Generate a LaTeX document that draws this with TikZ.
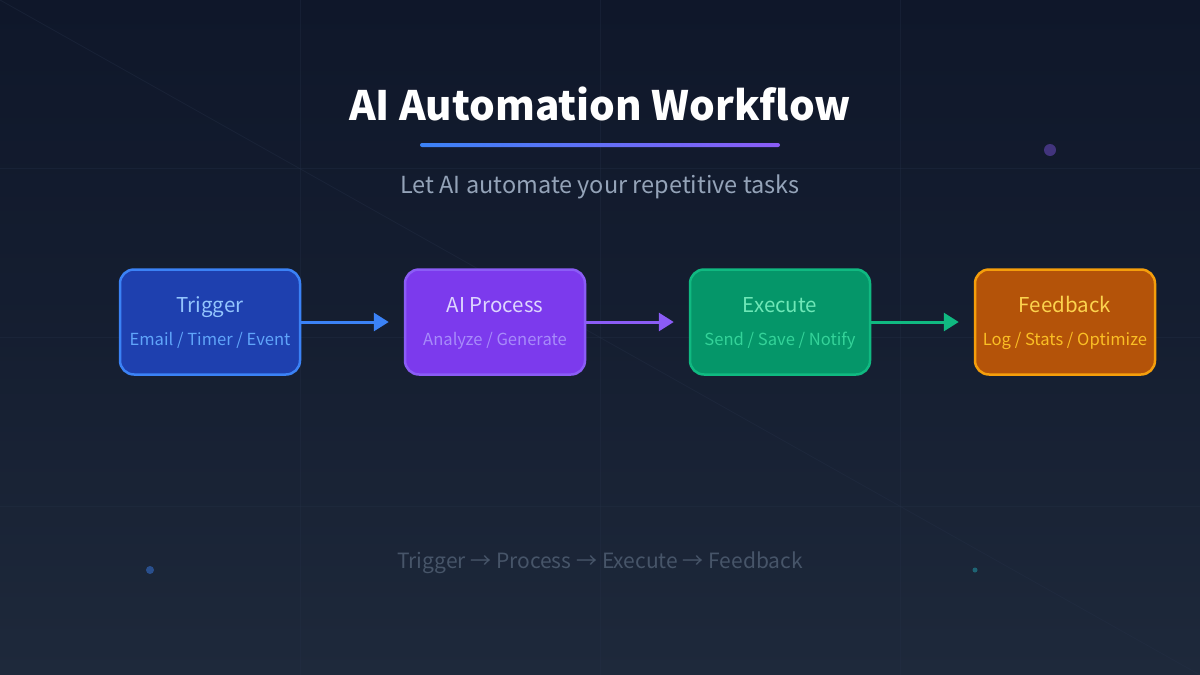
\documentclass[tikz,border=0pt]{standalone}
\usepackage{fontspec}
\setmainfont{Noto Sans CJK SC}
\usepackage{tikz}
\usetikzlibrary{positioning, arrows.meta, shapes.geometric}
\usepackage{xcolor}

\definecolor{bgdark}{HTML}{0F172A}
\definecolor{bglight}{HTML}{1E293B}
\definecolor{gridcol}{HTML}{253047}
\definecolor{subgray}{HTML}{94A3B8}
\definecolor{dimgray}{HTML}{475569}
% box colours
\definecolor{trigfill}{HTML}{1E40AF}
\definecolor{trigline}{HTML}{3B82F6}
\definecolor{trigtext}{HTML}{93C5FD}
\definecolor{trigsub}{HTML}{60A5FA}
\definecolor{procfill}{HTML}{7C3AED}
\definecolor{procline}{HTML}{8B5CF6}
\definecolor{proctext}{HTML}{DDD6FE}
\definecolor{procsub}{HTML}{A78BFA}
\definecolor{execfill}{HTML}{059669}
\definecolor{execline}{HTML}{10B981}
\definecolor{exectext}{HTML}{6EE7B7}
\definecolor{execsub}{HTML}{34D399}
\definecolor{feedfill}{HTML}{B45309}
\definecolor{feedline}{HTML}{F59E0B}
\definecolor{feedtext}{HTML}{FCD34D}
\definecolor{feedsub}{HTML}{FBBF24}

\tikzset{
    stagebox/.style={draw, line width=2.5pt, rounded corners=14pt,
        minimum width=180pt, minimum height=105pt, inner sep=0pt},
    stagetitle/.style={font=\fontsize{20.5}{24}\selectfont, inner sep=0pt, anchor=base},
    stagesub/.style={font=\fontsize{16.6}{19}\selectfont, inner sep=0pt, anchor=base},
    flow/.style={line width=3pt, -{Triangle[length=15pt, width=18pt]}, shorten >=15pt}
}

\begin{document}
\begin{tikzpicture}[x=1pt, y=-1pt]
    % Fundo
    \useasboundingbox (0,0) rectangle (1200,675);
    \shade[top color=bgdark, bottom color=bglight, middle color=bgdark!60!bglight] (0,0) rectangle (1200,675);
    \foreach \gx in {300,600,900}
        \draw[gridcol, line width=0.8pt, opacity=0.35] (\gx,0) -- (\gx,675);
    \foreach \gy in {168.75,337.5,506.25}
        \draw[gridcol, line width=0.8pt, opacity=0.35] (0,\gy) -- (1200,\gy);
    \draw[gridcol, line width=0.8pt, opacity=0.4] (0,0) -- (1200,675);
    \fill[procline, opacity=0.4] (1050,150) circle (6);
    \fill[trigline, opacity=0.45] (150,570) circle (4);
    \fill[execline!60!trigline, opacity=0.5] (975,570) circle (2.5);

    % Titulo
    \node[text=white, font=\fontsize{40.5}{48}\selectfont\bfseries] (title) at (600,104) {AI Automation Workflow};
    \shade[left color=trigline, right color=procline, rounded corners=2pt] (420,143) rectangle (780,147);
    \node[text=subgray, font=\fontsize{23.5}{28}\selectfont] (subtitle) at (600,187) {Let AI automate your repetitive tasks};

    % Etapas
    \node[stagebox, draw=trigline, fill=trigfill] (trigger) at (210,322) {};
    \node[stagebox, draw=procline, fill=procfill] (process) at (495,322) {};
    \node[stagebox, draw=execline, fill=execfill] (execute) at (780,322) {};
    \node[stagebox, draw=feedline, fill=feedfill] (feedback) at (1065,322) {};

    \node[stagetitle, text=trigtext] (triggername) at ([yshift=10pt]trigger.center) {Trigger};
    \node[stagesub, text=trigsub] (triggerinfo) at ([yshift=-23pt]trigger.center) {Email / Timer / Event};
    \node[stagetitle, text=proctext] (processname) at ([yshift=10pt]process.center) {AI Process};
    \node[stagesub, text=procsub] (processinfo) at ([yshift=-23pt]process.center) {Analyze / Generate};
    \node[stagetitle, text=exectext] (executename) at ([yshift=10pt]execute.center) {Execute};
    \node[stagesub, text=execsub] (executeinfo) at ([yshift=-23pt]execute.center) {Send / Save / Notify};
    \node[stagetitle, text=feedtext] (feedbackname) at ([yshift=10pt]feedback.center) {Feedback};
    \node[stagesub, text=feedsub] (feedbackinfo) at ([yshift=-23pt]feedback.center) {Log / Stats / Optimize};

    % Setas
    \draw[flow, trigline] (trigger.east) -- (process.west);
    \draw[flow, procline] (process.east) -- (execute.west);
    \draw[flow, execline] (execute.east) -- (feedback.west);

    % Rodape
    \node[text=dimgray, font=\fontsize{21}{25}\selectfont] (footer) at (600,563) {Trigger → Process → Execute → Feedback};
\end{tikzpicture}
\end{document}
